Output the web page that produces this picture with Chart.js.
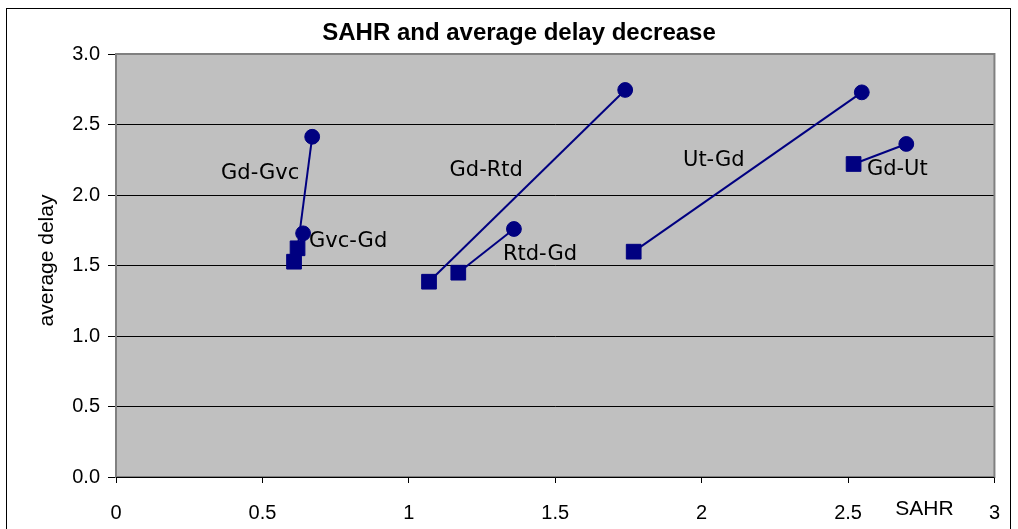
<!DOCTYPE html>
<html>
<head>
<meta charset="utf-8">
<script src="https://cdn.jsdelivr.net/npm/chart.js@4/dist/chart.umd.min.js"></script>
<style>
  html, body { margin: 0; padding: 0; background: #ffffff; }
  #wrap { width: 1018px; height: 529px; }
</style>
</head>
<body>
<div id="wrap"><canvas id="c" width="1018" height="529"></canvas></div>
<script>
// ---- data ----
const seriesNames = ['Gd-Gvc', 'Gvc-Gd', 'Gd-Rtd', 'Rtd-Gd', 'Ut-Gd', 'Gd-Ut'];
// square marker (start) of each pair
const startSAHR  = [0.620, 0.608, 1.069, 1.169, 1.768, 2.519];
const startDelay = [1.622, 1.527, 1.385, 1.449, 1.598, 2.220];
// circle marker (end) of each pair
const endSAHR    = [0.670, 0.639, 1.739, 1.359, 2.547, 2.699];
const endDelay   = [2.413, 1.728, 2.745, 1.759, 2.728, 2.362];
const xTickLabels = ['0', '0.5', '1', '1.5', '2', '2.5', '3'];
const yTickLabels = ['0.0', '0.5', '1.0', '1.5', '2.0', '2.5', '3.0'];
const chartTitle = 'SAHR and average delay decrease';
const xTitle = 'SAHR';
const yTitle = 'average delay';

// label placement (pixel offsets from the circle marker), style only
const labelOffsets = [[-52, 42], [45, 14], [-139, 86], [26, 31], [-148, 73.5], [-9, 31]];

const NAVY = '#000080';

const datasets = seriesNames.map((name, i) => ({
  label: name,
  data: [
    { x: startSAHR[i], y: startDelay[i] },
    { x: endSAHR[i], y: endDelay[i] }
  ],
  showLine: true,
  borderColor: NAVY,
  backgroundColor: NAVY,
  borderWidth: 2,
  pointStyle: ['rect', 'circle'],
  pointRadius: [10.4, 7.4],
  pointBorderWidth: 1,
  pointBorderColor: NAVY,
  pointBackgroundColor: NAVY
}));

const decorPlugin = {
  id: 'decor',
  beforeDraw(chart) {
    const ctx = chart.ctx;
    const a = chart.chartArea;
    ctx.save();
    ctx.fillStyle = '#ffffff';
    ctx.fillRect(0, 0, chart.width, chart.height);
    // outer chart border
    ctx.strokeStyle = '#000000';
    ctx.lineWidth = 1;
    ctx.strokeRect(6.5, 8.5, 1004, 560);
    // plot area background
    ctx.fillStyle = '#C0C0C0';
    ctx.fillRect(a.left, a.top, a.right - a.left, a.bottom - a.top);
    ctx.restore();
  },
  beforeDatasetsDraw(chart) {
    const ctx = chart.ctx;
    const a = chart.chartArea;
    ctx.save();
    ctx.strokeStyle = '#808080';
    ctx.lineWidth = 2;
    ctx.strokeRect(a.left, a.top, a.right - a.left, a.bottom - a.top);
    ctx.strokeStyle = '#000000';
    ctx.lineWidth = 1;
    ctx.beginPath();
    ctx.moveTo(a.left, Math.round(a.bottom) + 0.5);
    ctx.lineTo(a.right, Math.round(a.bottom) + 0.5);
    ctx.stroke();
    ctx.restore();
  },
  afterDraw(chart) {
    const ctx = chart.ctx;
    const a = chart.chartArea;
    const xs = chart.scales.x, ys = chart.scales.y;
    ctx.save();
    ctx.fillStyle = '#000000';
    // title
    ctx.font = 'bold 24px "Liberation Sans", Arial, sans-serif';
    ctx.textAlign = 'center';
    ctx.textBaseline = 'alphabetic';
    ctx.fillText(chartTitle, 519, 39.5);
    // x axis title
    ctx.font = '21px "Liberation Sans", Arial, sans-serif';
    ctx.fillText(xTitle, a.right - 70, a.bottom + 38);
    // y axis title
    ctx.save();
    ctx.translate(53, (a.top + a.bottom) / 2 - 5);
    ctx.rotate(-Math.PI / 2);
    ctx.fillText(yTitle, 0, 0);
    ctx.restore();
    // data labels
    ctx.font = '21px "DejaVu Sans", Verdana, sans-serif';
    seriesNames.forEach((name, i) => {
      const px = xs.getPixelForValue(endSAHR[i]);
      const py = ys.getPixelForValue(endDelay[i]);
      ctx.fillText(name, px + labelOffsets[i][0], py + labelOffsets[i][1]);
    });
    ctx.restore();
  }
};

new Chart(document.getElementById('c'), {
  type: 'scatter',
  data: { datasets },
  options: {
    responsive: false,
    animation: false,
    layout: { padding: { top: 54, right: 21, left: 0, bottom: 0 } },
    plugins: {
      legend: { display: false },
      title: { display: false },
      tooltip: { enabled: false }
    },
    scales: {
      x: {
        type: 'linear',
        min: 0, max: 3,
        afterFit(scale) { scale.height = 52; },
        afterBuildTicks(scale) {
          scale.ticks = xTickLabels.map(t => ({ value: parseFloat(t) }));
        },
        ticks: {
          color: '#000000',
          font: { family: '"Liberation Sans", Arial, sans-serif', size: 20 },
          padding: 18,
          maxRotation: 0,
          autoSkip: false,
          callback: (v, i) => xTickLabels[i]
        },
        grid: { drawOnChartArea: false, color: '#000000', tickLength: 6, lineWidth: 1 },
        border: { display: false }
      },
      y: {
        type: 'linear',
        min: 0, max: 3,
        afterFit(scale) { scale.width = 116; },
        afterBuildTicks(scale) {
          scale.ticks = yTickLabels.map(t => ({ value: parseFloat(t) }));
        },
        ticks: {
          color: '#000000',
          font: { family: '"Liberation Sans", Arial, sans-serif', size: 20 },
          padding: 8,
          autoSkip: false,
          callback: (v, i) => yTickLabels[i]
        },
        grid: { color: '#000000', tickLength: 8, lineWidth: 1 },
        border: { display: false }
      }
    }
  },
  plugins: [decorPlugin]
});
</script>
</body>
</html>
